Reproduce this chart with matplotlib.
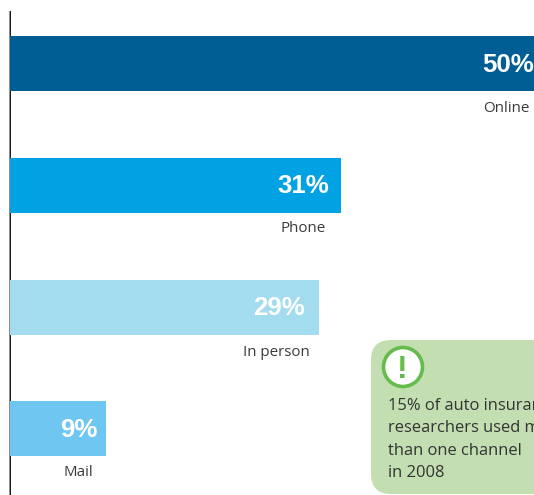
import matplotlib
matplotlib.use('Agg')
import matplotlib.pyplot as plt
from matplotlib.patches import FancyBboxPatch, Circle

channels = ['Online', 'Phone', 'In person', 'Mail']
shares = [50, 31, 29, 9]
bar_colors = ['#005E94', '#00A2E3', '#A3DCEF', '#6EC6F1']
note_lines = ['15% of auto insurance', 'researchers used more', 'than one channel', 'in 2008']

W, H = 534, 495
fig = plt.figure(figsize=(W / 100, H / 100), dpi=100)

# bar axes: x in percent, one y unit per channel
ax = fig.add_axes([0, 0, 1, 1])
px_per_pct = 10.67
row_step = 121.8
first_row = 63.5
ax.set_xlim(-10 / px_per_pct, (W - 10) / px_per_pct)
ax.set_ylim((H - first_row) / row_step, -first_row / row_step)
ax.axis('off')

rows = list(range(len(channels)))
ax.barh(rows, shares, height=55 / row_step, left=0, color=bar_colors, zorder=3)

# vertical baseline sits mostly behind the bars, only its soft left edge shows
ax.plot([0.25 / px_per_pct] * 2, [(H - first_row) / row_step, (11 - first_row) / row_step],
        color='#1c1c1c', lw=1.08, zorder=2, solid_capstyle='butt', snap=False)

label_right = [530, 326, 310, 93]
label_drop = [45, 43, 45, 43.5]
value_right = [534, 329, 305, 97]
for i, (name, pct) in enumerate(zip(channels, shares)):
    ax.text((value_right[i] - 10) / px_per_pct, i + 1 / row_step, f'{pct}%', color='white',
            family='Liberation Sans', weight='bold', fontsize=18.6,
            ha='right', va='center', zorder=5)
    ax.text((label_right[i] - 10) / px_per_pct, i + label_drop[i] / row_step, name,
            color='#3a3a3a', family='Open Sans', fontsize=10.9, ha='right', va='center', zorder=5)

# callout box drawn in pixel coordinates, running off the right edge
note = fig.add_axes([0, 0, 1, 1], zorder=6)
note.set_xlim(0, W)
note.set_ylim(H, 0)
note.axis('off')
note.patch.set_alpha(0)
note.add_patch(FancyBboxPatch((371, 340), 300, 154,
                              boxstyle='round,pad=0,rounding_size=20',
                              facecolor='#C3DFB1', edgecolor='none'))
note.add_patch(Circle((403, 367), 19.5, facecolor='white', edgecolor='#66BB4D', lw=2.6))
note.text(402.5, 367, '!', color='#66BB4D', family='Liberation Sans', weight='bold',
          fontsize=23, ha='center', va='center_baseline')
for i, line in enumerate(note_lines):
    note.text(388, 406 + i * 22.4, line, color='#333333', family='Open Sans',
              fontsize=11.9, ha='left', va='center')

fig.savefig('out.png', dpi=100)
